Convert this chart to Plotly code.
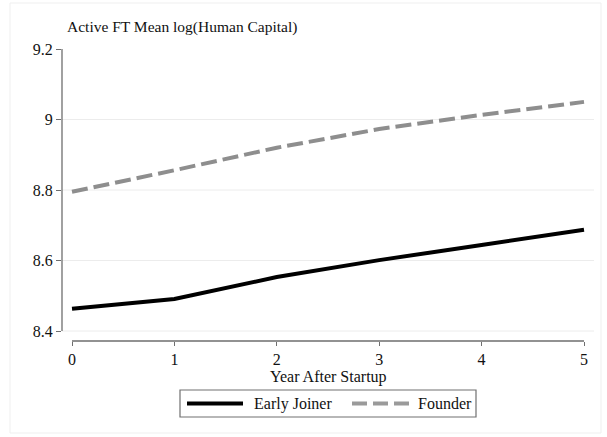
import plotly.graph_objects as go

# Mean log human capital of active full-time workers, by years since founding
years = [0, 1, 2, 3, 4, 5]
early_joiner = [8.463, 8.491, 8.553, 8.601, 8.644, 8.687]
founder = [8.795, 8.856, 8.920, 8.973, 9.013, 9.050]

y_ticks = [8.4, 8.6, 8.8, 9.0, 9.2]
y_tick_labels = ["8.4", "8.6", "8.8", "9", "9.2"]
x_ticks = [0, 1, 2, 3, 4, 5]
grid_levels = [8.4, 8.6, 8.8, 9.0]

W, H = 607, 437
ML, MR, MT, MB = 62, 13, 49, 96
PW, PH = W - ML - MR, H - MT - MB

FONT = "Liberation Serif, Times New Roman, serif"
AXIS_GRAY = "#6e6e6e"
TEXT = "#111111"


def px_x(px):
    return (px - ML) / PW


def px_y(py):
    return (H - MB - py) / PH


fig = go.Figure()
fig.add_trace(go.Scatter(
    x=years, y=early_joiner, mode="lines", name="Early Joiner",
    line=dict(color="#000000", width=4), showlegend=False,
))
fig.add_trace(go.Scatter(
    x=years, y=founder, mode="lines", name="Founder",
    line=dict(color="#8e8e8e", width=4, dash="16px,6px"), showlegend=False,
))

shapes = []
# outer graph-region frame
shapes.append(dict(type="rect", xref="paper", yref="paper",
                   x0=px_x(10), x1=px_x(601), y0=px_y(433), y1=px_y(3),
                   line=dict(color="#efefef", width=1), layer="below"))
# horizontal grid lines
for g in grid_levels:
    shapes.append(dict(type="line", xref="paper", yref="y", x0=0, x1=1,
                       y0=g, y1=g, line=dict(color="#ececec", width=1),
                       layer="below"))
# y axis line spanning the tick range
shapes.append(dict(type="line", xref="paper", yref="y", x0=0, x1=0,
                   y0=y_ticks[0], y1=y_ticks[-1],
                   line=dict(color=AXIS_GRAY, width=1.3)))
# x axis line spanning the tick range
shapes.append(dict(type="line", xref="x", yref="paper", x0=x_ticks[0],
                   x1=x_ticks[-1], y0=0, y1=0,
                   line=dict(color=AXIS_GRAY, width=1.3)))

# legend box
lx0, lx1, ly0, ly1 = 180, 476, 390, 417
shapes.append(dict(type="rect", xref="paper", yref="paper",
                   x0=px_x(lx0), x1=px_x(lx1), y0=px_y(ly1), y1=px_y(ly0),
                   line=dict(color="#707070", width=1.2),
                   fillcolor="white"))
ly = (ly0 + ly1) / 2
shapes.append(dict(type="line", xref="paper", yref="paper",
                   x0=px_x(187), x1=px_x(243), y0=px_y(ly), y1=px_y(ly),
                   line=dict(color="#000000", width=4)))
shapes.append(dict(type="line", xref="paper", yref="paper",
                   x0=px_x(352), x1=px_x(410), y0=px_y(ly), y1=px_y(ly),
                   line=dict(color="#9a9a9a", width=4, dash="15px,6px")))

annotations = [
    dict(text="Active FT Mean log(Human Capital)", xref="paper", yref="paper",
         x=px_x(65), y=px_y(27), xanchor="left", yanchor="middle",
         showarrow=False, font=dict(family=FONT, size=15.5, color=TEXT)),
    dict(text="Year After Startup", xref="paper", yref="paper",
         x=px_x(328), y=px_y(377), xanchor="center", yanchor="middle",
         showarrow=False, font=dict(family=FONT, size=16, color=TEXT)),
    dict(text="Early Joiner", xref="paper", yref="paper",
         x=px_x(252), y=px_y(ly), xanchor="left", yanchor="middle",
         showarrow=False, font=dict(family=FONT, size=16, color=TEXT)),
    dict(text="Founder", xref="paper", yref="paper",
         x=px_x(416), y=px_y(ly), xanchor="left", yanchor="middle",
         showarrow=False, font=dict(family=FONT, size=16, color=TEXT)),
]

y_bottom = y_ticks[0] - (10 / (331 - 49)) * (y_ticks[-1] - y_ticks[0])
x_pad = 10 / ((584 - 72) / 5)

fig.update_layout(
    width=W, height=H,
    margin=dict(l=ML, r=MR, t=MT, b=MB),
    paper_bgcolor="white", plot_bgcolor="white",
    font=dict(family=FONT, size=16, color=TEXT),
    showlegend=False,
    shapes=shapes,
    annotations=annotations,
    xaxis=dict(
        range=[x_ticks[0] - x_pad, x_ticks[-1] + x_pad],
        tickvals=x_ticks, ticktext=[str(t) for t in x_ticks],
        ticks="outside", ticklen=4, tickwidth=1.3, tickcolor=AXIS_GRAY,
        showline=False, showgrid=False, zeroline=False,
        tickfont=dict(family=FONT, size=16, color=TEXT),
        fixedrange=True,
    ),
    yaxis=dict(
        range=[y_bottom, y_ticks[-1]],
        tickvals=y_ticks, ticktext=y_tick_labels,
        ticks="outside", ticklen=5, tickwidth=1.3, tickcolor=AXIS_GRAY,
        showline=False, showgrid=False, zeroline=False,
        tickfont=dict(family=FONT, size=16, color=TEXT),
        fixedrange=True,
    ),
)

fig.write_html("out.html", config={"displayModeBar": False})
